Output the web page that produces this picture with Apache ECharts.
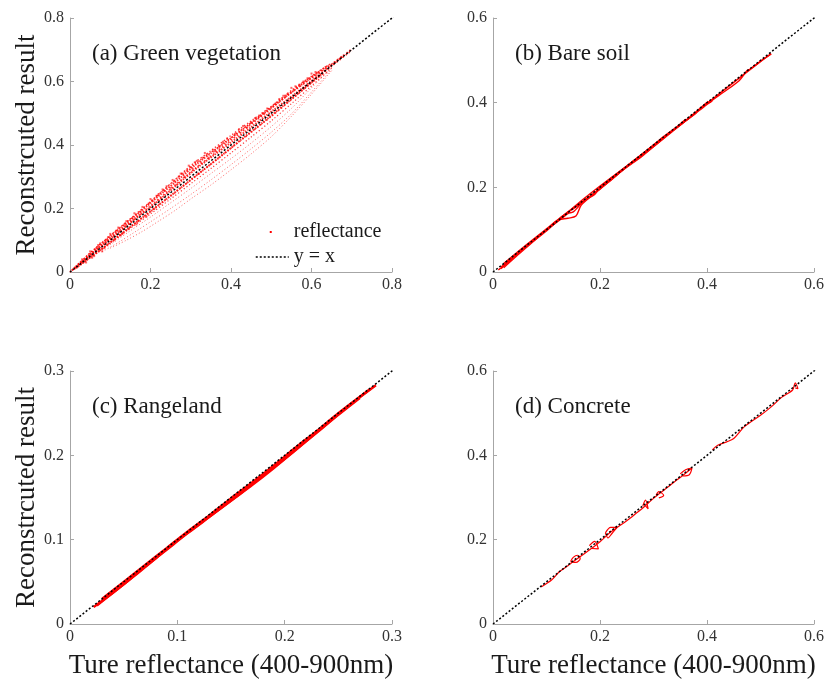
<!DOCTYPE html>
<html>
<head>
<meta http-equiv="Content-Type" content="text/html; charset=utf-8">
<title>Reconstruction</title>
<script src="https://cdn.jsdelivr.net/npm/echarts@6/dist/echarts.min.js"></script>
<style>
  html, body { margin: 0; padding: 0; background: #fff; }
  #main { width: 827px; height: 682px; }
</style>
</head>
<body>
<div id="main"></div>
<script type="text/javascript">
// panel titles and axis ranges
var panelTitles = ['(a) Green vegetation', '(b) Bare soil', '(c) Rangeland', '(d) Concrete'];
var axisMax = [0.8, 0.6, 0.3, 0.6];
var axisStep = [0.2, 0.2, 0.1, 0.2];

// (a) green vegetation, reflectance samples (true, reconstructed)
var vegA = [[0.005,0.006],[0.03,0.033],[0.06,0.064],[0.1,0.105],[0.15,0.156],[0.2,0.208],[0.25,0.262],[0.3,0.315],[0.35,0.365],[0.4,0.415],[0.45,0.465],[0.5,0.515],[0.55,0.565],[0.6,0.61],[0.65,0.655],[0.7,0.702]];
var vegB = [[0.02,0.025],[0.05,0.06],[0.1,0.115],[0.15,0.168],[0.2,0.222],[0.25,0.278],[0.3,0.335],[0.35,0.382],[0.4,0.43],[0.45,0.476],[0.5,0.522],[0.55,0.572],[0.6,0.617],[0.65,0.658]];
var vegC = [[0.04,0.05],[0.08,0.093],[0.12,0.136],[0.18,0.198],[0.22,0.245],[0.27,0.3],[0.32,0.35],[0.37,0.395],[0.42,0.442],[0.47,0.49],[0.52,0.54],[0.57,0.588],[0.62,0.632]];
var vegD = [[0.01,0.008],[0.04,0.036],[0.08,0.074],[0.12,0.113],[0.16,0.152],[0.2,0.192],[0.25,0.24],[0.3,0.29],[0.35,0.34],[0.4,0.39],[0.45,0.44],[0.5,0.49],[0.55,0.543],[0.6,0.596],[0.65,0.648],[0.7,0.698]];
var vegE = [[0.03,0.027],[0.07,0.064],[0.11,0.1],[0.15,0.138],[0.2,0.183],[0.25,0.23],[0.3,0.278],[0.35,0.326],[0.4,0.375],[0.45,0.425],[0.5,0.476],[0.55,0.53],[0.6,0.586],[0.65,0.642]];
var vegF = [[0.06,0.052],[0.1,0.086],[0.15,0.13],[0.2,0.173],[0.25,0.218],[0.3,0.263],[0.35,0.31],[0.4,0.357],[0.45,0.406],[0.5,0.458],[0.55,0.515],[0.6,0.58],[0.65,0.643]];
var vegG = [[0.08,0.064],[0.12,0.093],[0.16,0.125],[0.2,0.158],[0.25,0.2],[0.3,0.244],[0.35,0.29],[0.4,0.338],[0.45,0.388],[0.5,0.44],[0.55,0.498],[0.6,0.567],[0.65,0.638]];
var vegH = [[0.1,0.075],[0.14,0.1],[0.18,0.128],[0.22,0.16],[0.26,0.193],[0.3,0.23],[0.35,0.274],[0.4,0.322],[0.45,0.372],[0.5,0.426],[0.55,0.49],[0.6,0.56],[0.65,0.634]];
var vegI = [[0.0,0.0],[0.02,0.021],[0.05,0.052],[0.08,0.083],[0.11,0.113],[0.14,0.145],[0.17,0.176],[0.2,0.204],[0.24,0.246],[0.28,0.29],[0.32,0.332],[0.36,0.37],[0.4,0.408],[0.45,0.456],[0.5,0.505],[0.56,0.562],[0.62,0.622],[0.68,0.682]];
var vegJ = [[0.01,0.012],[0.04,0.046],[0.07,0.078],[0.1,0.11],[0.13,0.142],[0.16,0.174],[0.19,0.206],[0.23,0.25],[0.27,0.292],[0.31,0.336],[0.35,0.374],[0.39,0.412],[0.44,0.46],[0.49,0.508],[0.54,0.556],[0.59,0.604],[0.64,0.65]];
var vegK = [[0.015,0.012],[0.045,0.041],[0.075,0.069],[0.105,0.098],[0.135,0.127],[0.165,0.157],[0.2,0.19],[0.24,0.23],[0.28,0.27],[0.33,0.32],[0.38,0.37],[0.43,0.422],[0.48,0.472],[0.53,0.524],[0.58,0.576],[0.63,0.627]];
var vegPts = [[0.05,0.065],[0.07,0.085],[0.09,0.1],[0.1,0.12],[0.12,0.14],[0.14,0.16],[0.16,0.185],[0.18,0.205],[0.2,0.23],[0.22,0.245],[0.23,0.26],[0.24,0.27],[0.25,0.265],[0.26,0.285],[0.27,0.3],[0.28,0.31],[0.29,0.32],[0.3,0.33],[0.31,0.345],[0.33,0.36],[0.34,0.37],[0.36,0.38],[0.38,0.41],[0.42,0.45],[0.45,0.47],[0.48,0.5],[0.52,0.545],[0.55,0.58],[0.58,0.6],[0.6,0.625],[0.06,0.05],[0.08,0.065],[0.13,0.12],[0.17,0.16],[0.21,0.2],[0.32,0.31],
  [0.215,0.24],[0.235,0.255],[0.255,0.29],[0.265,0.275],[0.275,0.31],[0.285,0.3],[0.295,0.335],[0.305,0.325],[0.315,0.35],[0.325,0.345],[0.335,0.375],[0.345,0.36],[0.355,0.385],[0.37,0.395],[0.39,0.42],[0.41,0.435],[0.43,0.46],[0.44,0.455],[0.46,0.485],[0.47,0.49],[0.49,0.515],[0.51,0.53],[0.53,0.555],[0.54,0.56],[0.56,0.585],[0.57,0.59],[0.59,0.61],[0.61,0.63],
  [0.03,0.04],[0.04,0.03],[0.055,0.045],[0.065,0.075],[0.075,0.09],[0.085,0.075],[0.095,0.11],[0.11,0.1],[0.115,0.13],[0.125,0.115],[0.135,0.15],[0.145,0.135],[0.155,0.17],[0.165,0.15],[0.175,0.19],[0.19,0.175],[0.195,0.215],[0.205,0.225]];
var vegSets = [vegA, vegB, vegC, vegD, vegE, vegF, vegG, vegH, vegI, vegJ, vegK];
var vegWidths = [1.6, 1.4, 1.2, 1.6, 1.2, 1, 1, 1, 2, 2, 2];

// (b) bare soil spectra
var soil1 = [[0.01,0.005],[0.03,0.025],[0.06,0.058],[0.1,0.097],[0.13,0.132],[0.16,0.158],[0.2,0.197],[0.25,0.248],[0.3,0.296],[0.35,0.347],[0.4,0.398],[0.45,0.448],[0.5,0.497],[0.52,0.515]];
var soil2 = [[0.02,0.01],[0.04,0.033],[0.07,0.066],[0.1,0.1],[0.12,0.122],[0.14,0.127],[0.155,0.132],[0.165,0.158],[0.19,0.185],[0.24,0.238],[0.28,0.275],[0.33,0.328],[0.37,0.366],[0.4,0.396],[0.41,0.405]];
var soil3 = [[0.015,0.008],[0.05,0.048],[0.09,0.09],[0.12,0.118],[0.14,0.138],[0.15,0.142],[0.17,0.168],[0.18,0.176],[0.19,0.183],[0.2,0.2],[0.23,0.231],[0.27,0.27],[0.32,0.318],[0.36,0.361]];
var soil4 = [[0.4,0.403],[0.405,0.4],[0.41,0.406],[0.43,0.424],[0.46,0.452],[0.475,0.476],[0.48,0.479],[0.49,0.488],[0.5,0.498],[0.52,0.516]];
var soil5 = [[0.02,0.02],[0.06,0.062],[0.11,0.112],[0.14,0.142],[0.18,0.178],[0.22,0.216],[0.26,0.26],[0.3,0.3],[0.34,0.338],[0.38,0.376]];
var soil6 = [[0.015,0.012],[0.04,0.038],[0.08,0.079],[0.12,0.12],[0.16,0.163],[0.2,0.203],[0.24,0.241],[0.28,0.279],[0.32,0.321],[0.36,0.358],[0.4,0.401]];
var soilSets = [soil1, soil2, soil3, soil4, soil5, soil6];

// (c) rangeland spectra
var range1 = [[0.022,0.02],[0.04,0.037],[0.06,0.057],[0.08,0.078],[0.1,0.099],[0.12,0.118],[0.14,0.137],[0.16,0.156],[0.18,0.176],[0.2,0.196],[0.22,0.217],[0.24,0.238],[0.26,0.259],[0.285,0.283]];
var range2 = [[0.025,0.022],[0.05,0.047],[0.07,0.068],[0.09,0.088],[0.11,0.108],[0.13,0.127],[0.15,0.146],[0.17,0.165],[0.19,0.185],[0.21,0.206],[0.23,0.227],[0.25,0.248],[0.27,0.268]];
var range3 = [[0.03,0.03],[0.05,0.05],[0.07,0.07],[0.09,0.09],[0.11,0.11],[0.13,0.129],[0.15,0.149],[0.17,0.168],[0.19,0.188],[0.21,0.209],[0.23,0.229],[0.25,0.25],[0.28,0.279]];
var rangeSets = [range1, range2, range3];

// (d) concrete spectra
var conc1 = [[0.09,0.088],[0.11,0.105],[0.125,0.125],[0.14,0.138],[0.15,0.148],[0.17,0.166],[0.185,0.18],[0.2,0.195],[0.22,0.218],[0.25,0.245],[0.27,0.265],[0.28,0.275],[0.3,0.298],[0.32,0.318],[0.34,0.338],[0.355,0.352],[0.37,0.368]];
var conc2 = [[0.145,0.148],[0.15,0.158],[0.158,0.163],[0.163,0.155],[0.155,0.146],[0.145,0.148]];
var conc3 = [[0.18,0.186],[0.19,0.196],[0.197,0.178],[0.185,0.179]];
var conc4 = [[0.21,0.216],[0.215,0.204],[0.222,0.214],[0.232,0.229],[0.22,0.229],[0.21,0.216]];
var conc5 = [[0.28,0.28],[0.285,0.294],[0.29,0.273],[0.285,0.28]];
var conc6 = [[0.305,0.306],[0.31,0.314],[0.319,0.305],[0.31,0.299]];
var conc7 = [[0.35,0.356],[0.36,0.366],[0.372,0.37],[0.367,0.354],[0.355,0.351]];
var conc8 = [[0.41,0.413],[0.42,0.424],[0.437,0.432],[0.45,0.44],[0.47,0.468],[0.5,0.495],[0.52,0.515],[0.54,0.538],[0.56,0.555],[0.565,0.572],[0.57,0.558],[0.565,0.56]];
var concSets = [conc1, conc2, conc3, conc4, conc5, conc6, conc7, conc8];

var diagonal = [[0, 0], [1, 1]];

var gridPos = [
  { left: 70, top: 18, width: 322, height: 254 },
  { left: 493, top: 18, width: 321, height: 254 },
  { left: 70, top: 371, width: 322, height: 253 },
  { left: 493, top: 371, width: 321, height: 253 }
];

var serif = 'Liberation Serif';
var grids = [], xAxes = [], yAxes = [], titles = [], series = [];

for (var i = 0; i < 4; i++) {
  grids.push(gridPos[i]);
  titles.push({
    text: panelTitles[i],
    left: gridPos[i].left + 22,
    top: gridPos[i].top + 24,
    padding: 0,
    textStyle: { fontFamily: serif, fontSize: 23, fontWeight: 'normal', color: '#1a1a1a' }
  });
  var axisCommon = {
    type: 'value',
    gridIndex: i,
    min: 0,
    max: axisMax[i],
    interval: axisStep[i],
    splitLine: { show: false },
    axisLine: { show: true, lineStyle: { color: '#a6a6a6', width: 1 } },
    axisTick: { show: true, inside: true, length: 4, lineStyle: { color: '#a6a6a6' } },
    axisLabel: { fontFamily: serif, fontSize: 16, color: '#333' },
    nameTextStyle: { fontFamily: serif, fontSize: 27, color: '#1a1a1a' }
  };
  var xa = echarts.util.merge({}, axisCommon);
  xa.axisLabel = { fontFamily: serif, fontSize: 16, color: '#333', margin: 5 };
  if (i >= 2) {
    xa.name = 'Ture reflectance (400-900nm)';
    xa.nameLocation = 'middle';
    xa.nameGap = 28;
  }
  var ya = echarts.util.merge({}, axisCommon);
  ya.axisLabel = { fontFamily: serif, fontSize: 16, color: '#333', margin: 6 };
  if (i % 2 === 0) {
    ya.name = 'Reconstrcuted result';
    ya.nameLocation = 'middle';
    ya.nameGap = 26;
  }
  xAxes.push(xa);
  yAxes.push(ya);
}

function pushLine(data, idx, style) {
  series.push({
    name: 'reflectance',
    type: 'line',
    xAxisIndex: idx,
    yAxisIndex: idx,
    data: data,
    showSymbol: false,
    symbol: 'none',
    smooth: 0.3,
    silent: true,
    lineStyle: style,
    z: 2
  });
}

vegSets.forEach(function (d, n) {
  var w = vegWidths[n];
  pushLine(d, 0, { color: '#ff0000', width: w, type: w >= 2 ? [1.5, 1.2] : [w, 2.2], opacity: w > 1 ? 0.8 : 0.6 });
});
series.push({
  name: 'reflectance',
  type: 'scatter',
  xAxisIndex: 0,
  yAxisIndex: 0,
  data: vegPts,
  symbol: 'rect',
  symbolSize: 2,
  silent: true,
  itemStyle: { color: '#ff0000', opacity: 0.6 },
  z: 2
});
soilSets.forEach(function (d) {
  pushLine(d, 1, { color: '#ff0000', width: 1.4 });
});
rangeSets.forEach(function (d) {
  pushLine(d, 2, { color: '#ff0000', width: 2.4 });
});
concSets.forEach(function (d) {
  pushLine(d, 3, { color: '#ff0000', width: 1.2 });
});

for (var k = 0; k < 4; k++) {
  series.push({
    name: 'y = x',
    type: 'line',
    xAxisIndex: k,
    yAxisIndex: k,
    data: diagonal,
    showSymbol: false,
    symbol: 'none',
    silent: true,
    itemStyle: { color: '#000' },
    lineStyle: { color: '#000', width: 1.5, type: [2, 2] },
    z: 5
  });
}

var option = {
  backgroundColor: '#fff',
  animation: false,
  title: titles,
  grid: grids,
  xAxis: xAxes,
  yAxis: yAxes,
  legend: {
    left: 250,
    top: 217,
    orient: 'vertical',
    itemWidth: 33,
    itemHeight: 12,
    itemGap: 5,
    selectedMode: false,
    textStyle: { fontFamily: serif, fontSize: 20, color: '#1a1a1a' },
    data: [
      { name: 'reflectance', icon: 'path://M0,0M33,12M14,5h2v2h-2z', itemStyle: { color: '#ff0000' } },
      { name: 'y = x', itemStyle: { opacity: 0 }, lineStyle: { color: '#000', width: 1.5, type: [2, 2], opacity: 1 } }
    ]
  },
  series: series
};

var chart = echarts.init(document.getElementById('main'));
chart.setOption(option);
</script>
</body>
</html>
